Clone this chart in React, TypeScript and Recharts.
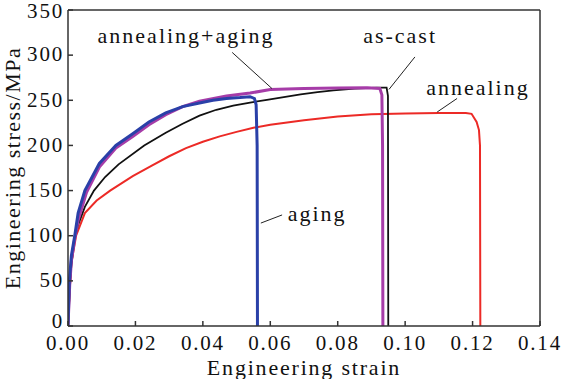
import { LineChart, Line, XAxis, YAxis, ReferenceLine, ReferenceDot, Label } from "recharts"

const xTicks = [0, 0.02, 0.04, 0.06, 0.08, 0.1, 0.12, 0.14]
const yTicks = [0, 50, 100, 150, 200, 250, 300, 350]

// annealing (red)
const annealingStrain = [0, 0.0005, 0.001, 0.0024, 0.005, 0.0085, 0.0125, 0.0192, 0.025, 0.03, 0.035, 0.04, 0.045, 0.05, 0.055, 0.06, 0.07, 0.08, 0.09, 0.1, 0.11, 0.118, 0.1197, 0.1212, 0.1219, 0.1222, 0.1223]
const annealingStress = [0, 40, 70, 100, 125, 139, 150, 166, 178, 188, 197, 204, 210, 215, 219.5, 223, 228, 232, 234.5, 235.5, 236, 236, 235, 226, 217, 200, 0]

// as-cast (black)
const asCastStrain = [0, 0.0005, 0.001, 0.002, 0.003, 0.005, 0.0077, 0.011, 0.015, 0.0226, 0.029, 0.034, 0.039, 0.044, 0.049, 0.054, 0.059, 0.064, 0.069, 0.074, 0.0787, 0.085, 0.0916, 0.0945, 0.0949, 0.095]
const asCastStress = [0, 40, 68, 97, 112, 132, 150, 165, 179, 200, 214, 224, 233, 239.5, 244, 247.5, 250.5, 253.5, 256.5, 259, 261, 263, 264, 264, 255, 0]

// annealing+aging (purple)
const annAgingStrain = [0, 0.0005, 0.001, 0.002, 0.003, 0.0055, 0.0093, 0.0142, 0.0192, 0.024, 0.029, 0.034, 0.039, 0.047, 0.054, 0.06, 0.07, 0.08, 0.0887, 0.0925, 0.0931, 0.0933, 0.0934]
const annAgingStress = [0, 45, 72, 97, 117, 148, 176, 197, 210, 223, 234, 243, 249, 254.7, 258, 262, 263, 263.5, 264, 263, 256, 200, 0]

// aging (blue)
const agingStrain = [0, 0.0004, 0.001, 0.002, 0.003, 0.005, 0.0093, 0.0142, 0.0192, 0.024, 0.029, 0.034, 0.039, 0.043, 0.047, 0.051, 0.054, 0.0553, 0.0558, 0.0561, 0.0562]
const agingStress = [0, 50, 78, 100, 125, 150, 180, 200, 213, 226, 236, 243, 247, 250, 252, 253, 254, 252, 245, 200, 0]

const zip = (xs: number[], ys: number[]) => xs.map((x, i) => ({ x, y: ys[i] }))

const series = [
  { name: "annealing", data: zip(annealingStrain, annealingStress), color: "#ec2a26", width: 2 },
  { name: "as-cast", data: zip(asCastStrain, asCastStress), color: "#111111", width: 1.8 },
  { name: "annealing+aging", data: zip(annAgingStrain, annAgingStress), color: "#a63ca8", width: 3 },
  { name: "aging", data: zip(agingStrain, agingStress), color: "#2a40a8", width: 3 },
]

// curve labels and their pointer lines, in data units
const notes = [
  { text: "annealing+aging", x: 0.035, y: 322, from: [0.0487, 303], to: [0.0605, 263] },
  { text: "as-cast", x: 0.0985, y: 322, from: [0.1029, 298], to: [0.0952, 262] },
  { text: "annealing", x: 0.1216, y: 265, from: [0.1154, 252], to: [0.1095, 237] },
  { text: "aging", x: 0.0739, y: 125, from: [0.0635, 123], to: [0.0572, 114] },
]

const FONT = "'Liberation Serif', 'Times New Roman', serif"
const AXIS = "#333"

const XTick = ({ x, y, payload }: any) => (
  <g>
    <line x1={x} x2={x} y1={y} y2={y - 5} stroke={AXIS} strokeWidth={1.5} />
    <text x={x} y={y + 17} dy="0.35em" textAnchor="middle" fontSize={21} fontFamily={FONT} letterSpacing={1.8} fill="#111">
      {payload.value.toFixed(2)}
    </text>
  </g>
)

// the end labels sit a little inside the box, as in the original
const yShift = (v: number) => (v === 350 ? 1 : v === 0 ? -5 : -1)

const YTick = ({ x, y, payload }: any) => (
  <g>
    <line x1={x} x2={x + 5} y1={y} y2={y} stroke={AXIS} strokeWidth={1.5} />
    <text x={x - 4} y={y + yShift(payload.value)} dy="0.35em" textAnchor="end" fontSize={21} fontFamily={FONT} letterSpacing={1.8} fill="#111">
      {payload.value}
    </text>
  </g>
)

export default function App() {
  return (
    <div style={{ position: "absolute", left: 0, top: 0, background: "#fff" }}>
      <LineChart width={564} height={379} margin={{ top: 10, right: 24, bottom: 0, left: 0 }}>
        <XAxis
          type="number"
          dataKey="x"
          domain={[0, 0.14]}
          ticks={xTicks}
          allowDataOverflow
          height={53}
          tickSize={0}
          tickMargin={0}
          tickLine={false}
          tick={<XTick />}
          axisLine={{ stroke: AXIS, strokeWidth: 1.5 }}
        >
          <Label value="Engineering strain" position="insideBottom" offset={4} fontSize={22} fontFamily={FONT} letterSpacing={1.8} fill="#111" />
        </XAxis>
        <YAxis
          type="number"
          dataKey="y"
          domain={[0, 350]}
          ticks={yTicks}
          allowDataOverflow
          width={68}
          tickSize={0}
          tickMargin={0}
          tickLine={false}
          tick={<YTick />}
          axisLine={{ stroke: AXIS, strokeWidth: 1.5 }}
        >
          <Label value="Engineering stress/MPa" angle={-90} position="insideLeft" offset={12} style={{ textAnchor: "middle" }} fontSize={22} fontFamily={FONT} letterSpacing={1.5} fill="#111" />
        </YAxis>
        <ReferenceLine y={350} stroke={AXIS} strokeWidth={1.5} />
        <ReferenceLine x={0.14} stroke={AXIS} strokeWidth={1.5} />
        {series.map((s) => (
          <Line
            key={s.name}
            data={s.data}
            dataKey="y"
            type="linear"
            stroke={s.color}
            strokeWidth={s.width}
            dot={false}
            isAnimationActive={false}
          />
        ))}
        {notes.map((n) => (
          <ReferenceLine
            key={n.text + "-ptr"}
            segment={[{ x: n.from[0], y: n.from[1] }, { x: n.to[0], y: n.to[1] }]}
            stroke="#222"
            strokeWidth={1}
          />
        ))}
        {notes.map((n) => (
          <ReferenceDot
            key={n.text}
            x={n.x}
            y={n.y}
            r={0}
            fill="none"
            stroke="none"
            label={{ value: n.text, position: "center", fontSize: 22, fontFamily: FONT, letterSpacing: 2, fill: "#111" }}
          />
        ))}
      </LineChart>
    </div>
  )
}
